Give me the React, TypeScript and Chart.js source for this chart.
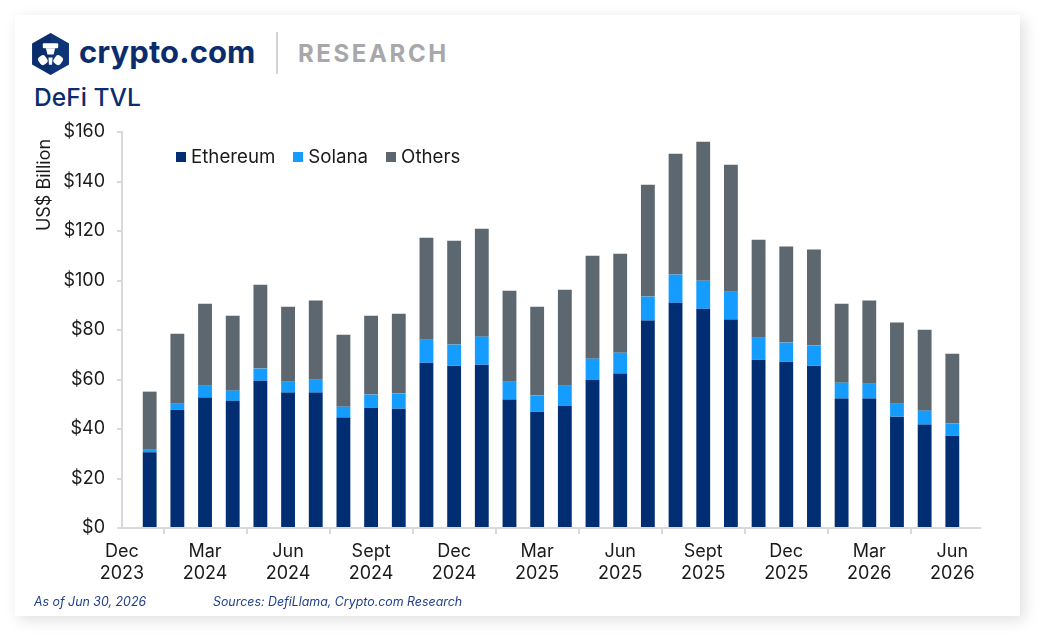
import React, { useEffect, useRef } from 'react';
import { Chart, registerables } from 'chart.js';

Chart.register(...registerables);

// ---- Data ----
const categories = [
  'Dec 2023', 'Jan 2024', 'Feb 2024', 'Mar 2024', 'Apr 2024', 'May 2024', 'Jun 2024',
  'Jul 2024', 'Aug 2024', 'Sept 2024', 'Oct 2024', 'Nov 2024', 'Dec 2024',
  'Jan 2025', 'Feb 2025', 'Mar 2025', 'Apr 2025', 'May 2025', 'Jun 2025',
  'Jul 2025', 'Aug 2025', 'Sept 2025', 'Oct 2025', 'Nov 2025', 'Dec 2025',
  'Jan 2026', 'Feb 2026', 'Mar 2026', 'Apr 2026', 'May 2026', 'Jun 2026', 'Jul 2026',
];

const ethereum = [
  null, 30.6, 47.8, 52.7, 51.4, 59.5, 54.7, 54.7, 44.6, 48.6, 48.2, 66.8, 65.6,
  66.0, 51.9, 47.0, 49.4, 59.9, 62.4, 83.8, 91.0, 88.6, 84.2, 68.0, 67.2,
  65.6, 52.3, 52.3, 45.0, 41.8, 37.3, null,
];

const solana = [
  null, 1.0, 2.4, 4.8, 4.1, 4.9, 4.4, 5.2, 4.4, 5.3, 6.1, 9.3, 8.5,
  11.3, 7.2, 6.5, 8.1, 8.5, 8.4, 9.7, 11.4, 11.3, 11.3, 8.9, 7.7,
  8.1, 6.4, 6.0, 5.2, 5.6, 4.9, null,
];

const others = [
  null, 23.5, 28.3, 33.1, 30.3, 33.9, 30.3, 32.0, 29.1, 31.9, 32.3, 41.2, 42.0,
  43.6, 36.8, 35.9, 38.8, 41.6, 40.0, 45.2, 48.8, 56.2, 51.3, 39.6, 38.8,
  38.8, 31.9, 33.6, 32.8, 32.7, 28.2, null,
];

const seriesNames = ['Ethereum', 'Solana', 'Others'];
const seriesColors = ['#012E72', '#149DFF', '#5D6770'];

const yMin = 0;
const yMax = 160;
const yStep = 20;
const tickEvery = 3;
const yAxisTitle = 'US$ Billion';

const FONT = 'Inter, "Noto Sans", Roboto, sans-serif';
const NAVY = '#0B2D6E';

const yTitlePlugin = {
  id: 'yTitlePlugin',
  afterDraw(chart: any) {
    const ctx = chart.ctx;
    const area = chart.chartArea;
    ctx.save();
    ctx.translate(45, area.top + 53);
    ctx.rotate(-Math.PI / 2);
    ctx.font = `18px ${FONT}`;
    ctx.fillStyle = '#1a1a1a';
    ctx.textAlign = 'center';
    ctx.textBaseline = 'middle';
    ctx.fillText(yAxisTitle, 0, 0);
    ctx.restore();
  },
};

function Logo() {
  return (
    <svg width="37" height="42" viewBox="0 0 36 41" style={{ position: 'absolute', left: 32, top: 33 }}>
      <polygon points="18,0 36,10.25 36,30.75 18,41 0,30.75 0,10.25" fill="#0B2D6E" />
      <polygon points="18,0 36,10.25 36,30.75 18,41" fill="#123A80" opacity="0.6" />
      <rect x="10.5" y="10" width="15" height="5" rx="1" fill="#fff" />
      <polygon points="13.5,15 22.5,15 21,21 15,21" fill="#fff" />
      <rect x="6.5" y="22" width="8" height="9" rx="3" fill="#fff" transform="rotate(-35 10.5 26.5)" />
      <rect x="21.5" y="22" width="8" height="9" rx="3" fill="#fff" transform="rotate(35 25.5 26.5)" />
      <polygon points="16,24 20,24 19.5,31 16.5,31" fill="#fff" />
    </svg>
  );
}

export default function App() {
  const canvasRef = useRef<HTMLCanvasElement | null>(null);

  useEffect(() => {
    const canvas = canvasRef.current;
    if (!canvas) return;
    const dataArrays = [ethereum, solana, others];
    const chart = new Chart(canvas, {
      type: 'bar',
      data: {
        labels: categories,
        datasets: seriesNames.map((name, i) => ({
          label: name,
          data: dataArrays[i],
          backgroundColor: seriesColors[i],
          borderWidth: 0,
          barPercentage: 0.5,
          categoryPercentage: 1.0,
        })),
      },
      options: {
        responsive: false,
        maintainAspectRatio: false,
        animation: false,
        devicePixelRatio: 1,
        layout: { padding: { left: 30, top: 132, right: 64, bottom: 50 } },
        plugins: {
          legend: { display: false },
          tooltip: { enabled: false },
        },
        scales: {
          x: {
            stacked: true,
            offset: false,
            grid: {
              display: true,
              drawOnChartArea: false,
              drawTicks: true,
              tickLength: 6,
              color: '#D9D9D9',
              lineWidth: 2,
            },
            border: { display: true, color: '#D9D9D9', width: 2 },
            ticks: {
              autoSkip: false,
              maxRotation: 0,
              minRotation: 0,
              padding: 7,
              color: '#1a1a1a',
              font: { family: FONT, size: 18, lineHeight: 1.2 },
              callback: (_v: any, index: number) =>
                index % tickEvery === 0 ? categories[index].split(' ') : null,
            },
            afterFit: (s: any) => {
              s.height = 62;
            },
          },
          y: {
            stacked: true,
            min: yMin,
            max: yMax,
            grid: {
              display: true,
              drawOnChartArea: false,
              drawTicks: true,
              tickLength: 5,
              color: '#D9D9D9',
              lineWidth: 2,
            },
            border: { display: true, color: '#D9D9D9', width: 2 },
            ticks: {
              stepSize: yStep,
              padding: 12,
              color: '#1a1a1a',
              font: { family: FONT, size: 18 },
              callback: (v: any) => '$' + v,
            },
            afterFit: (s: any) => {
              s.width = 92;
            },
          },
        },
      },
      plugins: [yTitlePlugin],
    });
    return () => chart.destroy();
  }, []);

  return (
    <div style={{ position: 'fixed', left: 0, top: 0, width: 1044, height: 640, background: '#fff', fontFamily: FONT, overflow: 'hidden' }}>
      <div
        style={{
          position: 'absolute',
          left: 15,
          top: 15,
          width: 1005,
          height: 601,
          background: '#fff',
          boxShadow: '4px 4px 14px rgba(0,0,0,0.13)',
        }}
      />
      <Logo />
      <div style={{ position: 'absolute', left: 79, top: 31, fontSize: 31, fontWeight: 700, color: NAVY, letterSpacing: 0.1, lineHeight: '42px' }}>
        crypto.com
      </div>
      <div style={{ position: 'absolute', left: 276, top: 32, width: 2, height: 42, background: '#D3D3D3' }} />
      <div style={{ position: 'absolute', left: 298, top: 37, fontSize: 24, fontWeight: 700, color: '#A6A8AB', letterSpacing: 2.6, lineHeight: '34px' }}>
        RESEARCH
      </div>
      <div style={{ position: 'absolute', left: 34, top: 82, fontSize: 24.6, fontWeight: 500, color: NAVY, lineHeight: '30px' }}>
        DeFi TVL
      </div>
      <canvas ref={canvasRef} width={1044} height={640} style={{ position: 'absolute', left: 0, top: 0, width: 1044, height: 640 }} />
      <div style={{ position: 'absolute', left: 176, top: 145, display: 'flex', gap: 18, fontSize: 18.7, color: '#1a1a1a', lineHeight: '24px' }}>
        {seriesNames.map((n, i) => (
          <div key={n} style={{ display: 'flex', alignItems: 'center' }}>
            <span style={{ display: 'inline-block', width: 10, height: 10, background: seriesColors[i], marginRight: 5 }} />
            <span>{n}</span>
          </div>
        ))}
      </div>
      <div style={{ position: 'absolute', left: 34, top: 594, fontSize: 12.4, fontStyle: 'italic', color: '#1F3E8C', lineHeight: '16px' }}>
        As of Jun 30, 2026
      </div>
      <div style={{ position: 'absolute', left: 213, top: 594, fontSize: 12.4, fontStyle: 'italic', color: '#1F3E8C', lineHeight: '16px' }}>
        Sources: DefiLlama, Crypto.com Research
      </div>
    </div>
  );
}
